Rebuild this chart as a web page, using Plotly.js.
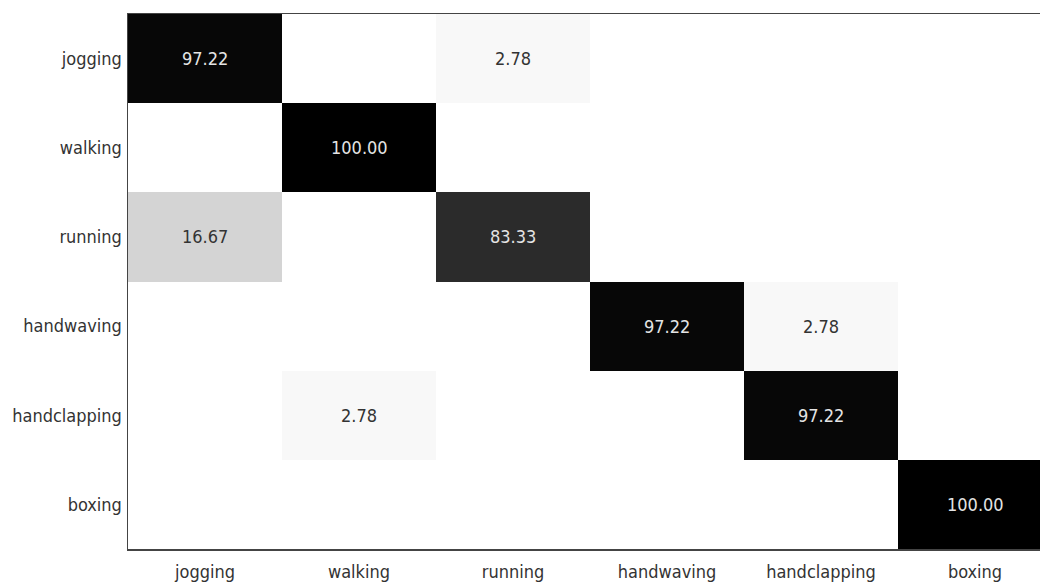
<!DOCTYPE html>
<html>
<head>
<meta charset="utf-8">
<script src="https://cdn.plot.ly/plotly-3.0.1.min.js"></script>
<style>html,body{margin:0;padding:0;overflow:hidden;background:#fff;}</style>
</head>
<body>
<div id="chart" style="width:1052px;height:585px;"></div>
<script>
const predicted = ["jogging","walking","running","handwaving","handclapping","boxing"];
const actual = ["jogging","walking","running","handwaving","handclapping","boxing"];
const jogging =      [97.22, 0, 2.78, 0, 0, 0];
const walking =      [0, 100.00, 0, 0, 0, 0];
const running =      [16.67, 0, 83.33, 0, 0, 0];
const handwaving =   [0, 0, 0, 97.22, 2.78, 0];
const handclapping = [0, 2.78, 0, 0, 97.22, 0];
const boxing =       [0, 0, 0, 0, 0, 100.00];
const z = [jogging, walking, running, handwaving, handclapping, boxing];

const FONT = "'Liberation Sans Narrow', 'Arial Narrow', 'DejaVu Sans Condensed', sans-serif";
const annotations = [];
z.forEach((row, i) => row.forEach((v, j) => {
  if (v > 0) annotations.push({
    x: predicted[j], y: actual[i], text: v.toFixed(2), showarrow: false,
    font: {family: FONT, size: 18, color: v > 50 ? '#e4e4e4' : '#333'}
  });
}));

Plotly.newPlot('chart', [{
  type: 'heatmap', x: predicted, y: actual, z: z,
  zmin: 0, zmax: 100,
  colorscale: [[0, '#ffffff'], [1, '#000000']],
  showscale: false, xgap: 0, ygap: 0, hoverinfo: 'skip'
}], {
  width: 1052, height: 585,
  margin: {l: 128, r: 0, t: 14, b: 36},
  paper_bgcolor: '#fff', plot_bgcolor: '#fff',
  font: {family: FONT, size: 18, color: '#333'},
  xaxis: {showline: true, linecolor: '#444', linewidth: 1.5, mirror: true, showgrid: false, zeroline: false, ticks: '', ticklen: 0, ticklabelstandoff: 6, tickfont: {family: FONT, size: 18, color: '#333'}},
  yaxis: {autorange: 'reversed', showline: true, linecolor: '#444', linewidth: 1.5, mirror: true, showgrid: false, zeroline: false, ticks: '', ticklabelstandoff: 1, tickfont: {family: FONT, size: 18, color: '#333'}},
  annotations: annotations
}, {displayModeBar: false, staticPlot: true});
</script>
</body>
</html>
